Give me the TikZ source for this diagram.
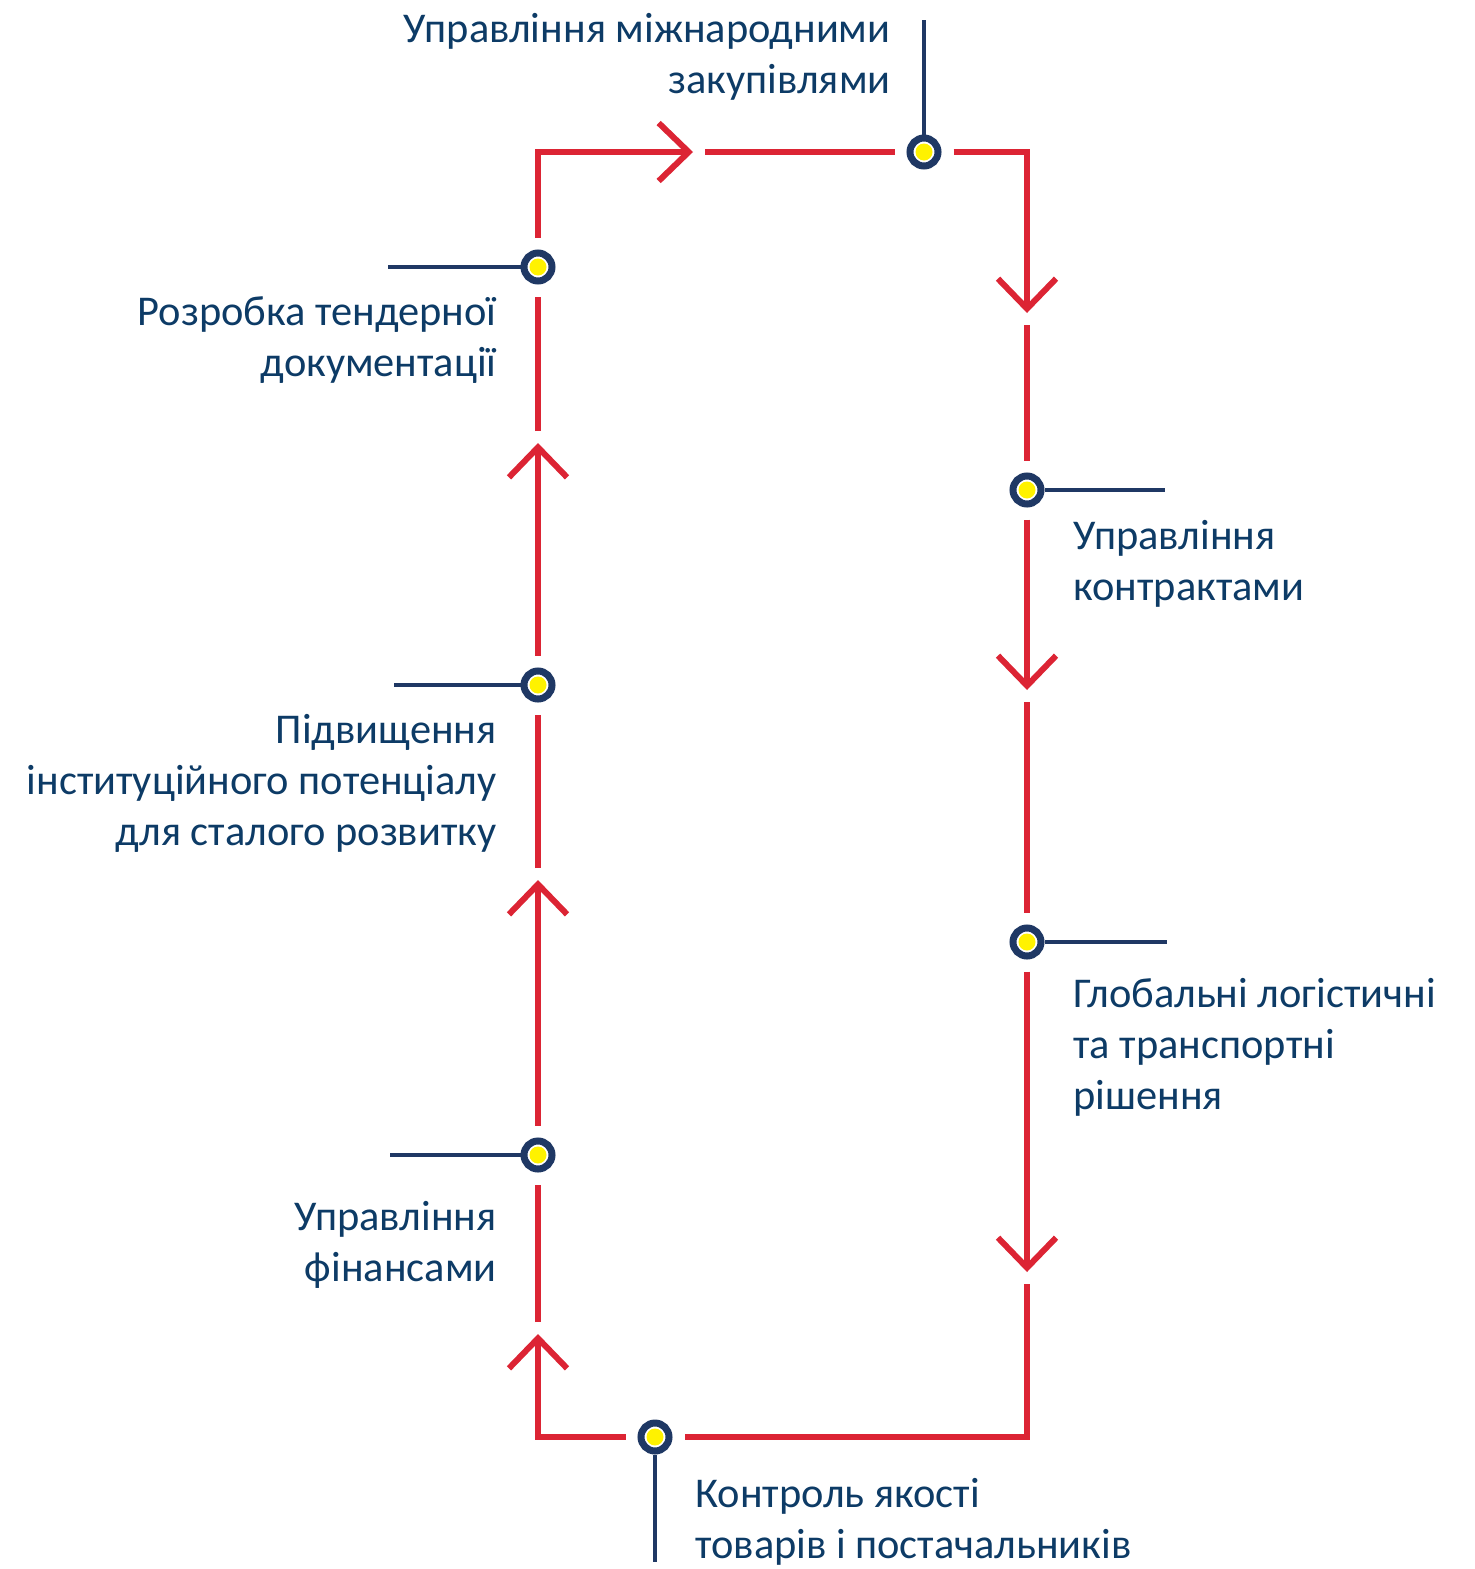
\documentclass[tikz,border=0pt]{standalone}
\usepackage{fontspec}
\setmainfont{Carlito}
\usepackage{tikz}
\usetikzlibrary{arrows.meta}
\definecolor{flowred}{HTML}{DC2434}
\definecolor{ringblue}{HTML}{1F3864}
\definecolor{textblue}{HTML}{0D3B66}
\definecolor{dotyellow}{HTML}{FFF200}
\tikzstyle{stage} = [circle, draw=ringblue, line width=3.5pt, fill=white, minimum size=14pt, inner sep=0pt,
  path picture={\fill[dotyellow] (path picture bounding box.center) circle (4.25pt);}]
\tikzstyle{flow} = [flowred, line width=3pt, shorten <=6pt]
\tikzstyle{flowarrow} = [flow, -{Straight Barb[length=15pt, width=29pt]}]
\tikzstyle{flowlink} = [flow, shorten >=6pt]
\tikzstyle{lead} = [ringblue, line width=2.2pt]
\tikzstyle{caption} = [text=textblue, font=\fontsize{21.2pt}{25.5pt}\selectfont, inner sep=0pt]

\begin{document}
\begin{tikzpicture}[x=0.5pt,y=-0.5pt]
				\useasboundingbox (0,0) rectangle (1474,1569);
				% stages on the loop
				\node[stage] (m1) at (924,152) {};
				\node[stage] (m2) at (538,267) {};
				\node[stage] (m3) at (538,685) {};
				\node[stage] (m4) at (538,1155) {};
				\node[stage] (m5) at (655,1437) {};
				\node[stage] (m6) at (1027,490) {};
				\node[stage] (m7) at (1027,942) {};
				% arrow tips
				\coordinate (a1) at (538,1334);
				\coordinate (a2) at (538,880);
				\coordinate (a3) at (538,443);
				\coordinate (a4) at (693,152);
				\coordinate (a5) at (1027,313);
				\coordinate (a6) at (1027,690);
				\coordinate (a7) at (1027,1272);
				% ends of the leader lines
				\coordinate (l1) at (924,20);
				\coordinate (l2) at (388,267);
				\coordinate (l3) at (394,685);
				\coordinate (l4) at (390,1155);
				\coordinate (l5) at (655,1562);
				\coordinate (l6) at (1165,490);
				\coordinate (l7) at (1167,942);
				% the loop
				\draw[flowarrow] (m5) -| (a1);
				\draw[flowlink] (a1) -- (m4);
				\draw[flowarrow] (m4) -- (a2);
				\draw[flowlink] (a2) -- (m3);
				\draw[flowarrow] (m3) -- (a3);
				\draw[flowlink] (a3) -- (m2);
				\draw[flowarrow] (m2) |- (a4);
				\draw[flowlink] (a4) -- (m1);
				\draw[flowarrow] (m1) -| (a5);
				\draw[flowlink] (a5) -- (m6);
				\draw[flowarrow] (m6) -- (a6);
				\draw[flowlink] (a6) -- (m7);
				\draw[flowarrow] (m7) -- (a7);
				\draw[flowlink] (a7) |- (m5);
				% leaders
				\foreach \i in {1,...,7}
					\draw[lead] (m\i) -- (l\i);
				% labels (base = last line)
				\node[caption, align=right, anchor=base east] (t1) at (891,93) {Управління міжнародними\\закупівлями};
				\node[caption, align=right, anchor=base east] (t2) at (497,376) {Розробка тендерної\\документації};
				\node[caption, align=right, anchor=base east] (t3) at (497,845) {Підвищення\\інституційного потенціалу\\для сталого розвитку};
				\node[caption, align=right, anchor=base east] (t4) at (497,1281) {Управління\\фінансами};
				\node[caption, align=left, anchor=base west] (t5) at (695,1558) {Контроль якості\\товарів і постачальників};
				\node[caption, align=left, anchor=base west] (t6) at (1073,600) {Управління\\контрактами};
				\node[caption, align=left, anchor=base west] (t7) at (1073,1109) {Глобальні логістичні\\та транспортні\\рішення};
			\end{tikzpicture}
\end{document}
